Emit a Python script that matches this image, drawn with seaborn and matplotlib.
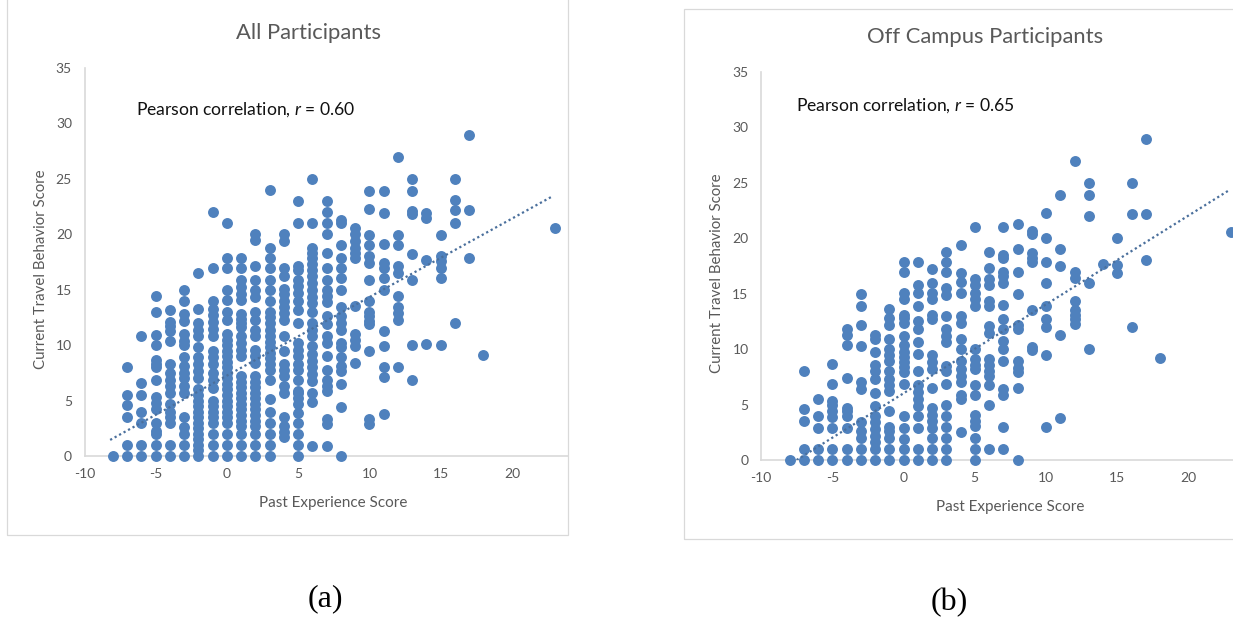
import matplotlib
matplotlib.use("Agg")
import matplotlib.pyplot as plt
from matplotlib.patches import Rectangle
import pandas as pd
import seaborn as sns

# past experience score of each column of points
past_all = [-8, -7, -6, -5, -4, -3, -2, -1, 0, 1, 2, 3, 4, 5, 6, 7, 8, 9, 10, 11, 12, 13, 14, 15, 16, 17, 18, 23]
# current travel behavior score, one list per column
current_all = [
    [0],
    [0, 1, 3.5, 4.6, 5.5, 8],
    [0, 1, 3, 4, 5.5, 6.6, 10.8],
    [0, 1, 2, 2.3, 3, 4.2, 4.8, 5.3, 6.9, 8, 8.3, 8.7, 10, 10.9, 13, 14.4],
    [0, 1, 3, 3.5, 4, 4.7, 5.7, 6.3, 6.9, 7.5, 8.3, 10.4, 11.3, 11.7, 12.1, 13.2],
    [0, 1, 2, 2.6, 3.5, 5.7, 6.3, 7, 7.5, 8.1, 8.9, 10, 10.4, 11, 12.2, 12.8, 14, 15],
    [0, 0.5, 1, 1.5, 2, 2.5, 3, 3.5, 4, 4.5, 5, 5.5, 6, 7, 7.7, 8.3, 8.9, 9.8, 10.8, 11.4, 12, 13.3, 16.5],
    [0, 1, 2, 3, 3.5, 4, 4.5, 5, 6.1, 6.9, 7.5, 8.3, 8.9, 9.5, 10.8, 11.5, 12.1, 12.7, 13.3, 14, 17, 22],
    [0, 1, 2, 3, 3.5, 4, 4.5, 5, 5.5, 6, 6.5, 7, 7.5, 8, 8.5, 9, 9.5, 10, 10.5, 11, 12.3, 13, 14.1, 15, 17.9, 17, 21],
    [0, 1, 2, 2.7, 3.2, 3.7, 4.2, 4.7, 5.2, 5.7, 6.2, 6.7, 7.2, 9, 9.6, 10.2, 10.8, 11.6, 12, 12.4, 12.8, 14.1, 14.6, 15.2, 15.9, 17, 17.9],
    [0, 1, 2, 2.7, 3.2, 3.7, 4.2, 4.7, 5.2, 5.7, 6.2, 6.7, 7.2, 8.4, 9, 9.6, 10.8, 11.4, 12.3, 13, 14.3, 15, 15.9, 17.1, 19.5, 20],
    [0, 1, 2, 3, 4, 5.1, 6.9, 7.8, 8.3, 8.8, 9.3, 9.8, 10.3, 10.8, 11.4, 12, 12.5, 13, 14, 15, 15.9, 17, 17.9, 18.8, 24],
    [1.7, 2.2, 2.7, 3.5, 5.7, 6.3, 7.2, 7.8, 8.3, 9.5, 10.8, 12.3, 12.9, 13.4, 14, 14.6, 15.1, 16.2, 17, 19.4, 20],
    [0, 1, 2, 3, 3.9, 4.7, 5.2, 5.7, 5.9, 6.9, 7.8, 8.3, 9, 9.6, 10.2, 12, 13.2, 14, 14.7, 15.3, 15.9, 16.8, 17.1, 21, 23],
    [0.9, 4.9, 5.7, 6.8, 7.4, 8, 8.6, 9.2, 9.9, 10.8, 11.4, 12, 13, 13.8, 14.3, 15, 15.6, 16.2, 16.8, 17.3, 17.9, 18.3, 18.8, 21, 25],
    [0.9, 2.9, 3.3, 5.9, 6.3, 6.9, 7.8, 9, 10.2, 10.8, 11.9, 12.6, 13.9, 14.4, 15, 15.9, 17, 18.3, 20, 21, 22, 23],
    [0, 4.4, 6.5, 7.7, 8.1, 8.9, 9.8, 10.2, 11.4, 12, 12.6, 13.4, 15, 16.1, 17, 17.9, 19, 21, 21.3],
    [8.4, 9.9, 10.5, 11, 13.5, 17.9, 18.3, 18.8, 19.4, 20, 20.6],
    [2.9, 3.3, 9.5, 11.9, 12.2, 12.6, 13, 14, 15.9, 17.4, 18, 19, 19.9, 22.3, 23.9],
    [3.8, 7.1, 8, 9.9, 11.3, 15, 16.1, 17, 17.4, 19.1, 21.9, 23.9],
    [8, 12.3, 12.9, 13.4, 14.4, 16.5, 17.1, 19, 19.9, 27],
    [6.9, 10, 15.9, 18.2, 21.8, 22.1, 23.9, 25],
    [10.1, 17.7, 21.5, 21.9],
    [10, 16.1, 17, 17.6, 18, 19.9],
    [12, 21, 22.2, 23.1, 25],
    [17.9, 22.2, 29],
    [9.1],
    [20.6],
]
trend_x_all = [-8.2, 22.8]
trend_y_all = [1.45, 23.4]

past_off = [-8, -7, -6, -5, -4, -3, -2, -1, 0, 1, 2, 3, 4, 5, 6, 7, 8, 9, 10, 11, 12, 13, 14, 15, 16, 17, 18, 23]
current_off = [
    [0],
    [0, 1, 3.5, 4.6, 8],
    [0, 1, 2.9, 4, 5.5],
    [0, 1, 2.9, 3.9, 4.4, 5, 5.3, 6.9, 8.7],
    [0, 1, 2.9, 4, 4.4, 4.7, 7.4, 10.4, 11.3, 11.8],
    [0, 1, 2, 2.6, 3.4, 6.4, 7, 10.3, 12.2, 13.9, 15],
    [0, 1, 1.6, 2.2, 2.8, 3.4, 4, 4.9, 6, 7.3, 8, 8.6, 9.7, 10.9, 11.3],
    [0, 1, 2, 2.6, 3, 4.4, 6.2, 6.8, 7.3, 8, 8.9, 9.5, 10, 10.9, 12.2, 12.8, 13.6],
    [0, 1, 1.9, 2.9, 4, 6.9, 7.9, 8.4, 8.8, 9.3, 9.7, 10.4, 11.2, 12.4, 12.8, 13.1, 14.5, 15.1, 17, 17.9],
    [0, 1, 2.9, 4, 4.9, 5.5, 6.1, 6.8, 8, 9.6, 10.6, 11.8, 12.5, 13.9, 15.1, 15.8, 17.9],
    [0, 1, 2, 2.9, 3.5, 4.1, 4.7, 6.5, 8.2, 8.8, 9.5, 12.7, 13.1, 14.5, 15.1, 16, 17.2],
    [0, 1, 2, 3, 4, 5, 6.9, 8, 8.5, 10.6, 11.2, 11.8, 13, 14.9, 15.5, 17, 17.9, 18.8],
    [2.5, 5.5, 5.9, 7, 7.6, 8.2, 8.9, 10, 10.9, 12.4, 13, 15.1, 16.1, 16.9, 19.4],
    [0, 1, 2, 3.1, 3.5, 4.1, 5.9, 6.8, 8.2, 8.6, 9.1, 10, 13.9, 14.5, 15.1, 15.8, 16.3, 21],
    [1, 5, 6.8, 7.6, 8, 8.6, 9.1, 11.5, 12.1, 13.9, 14.3, 15.8, 16.3, 17.3, 18.8],
    [1, 3, 5.9, 6.4, 8.9, 10, 10.7, 11.8, 12.7, 14, 16, 16.6, 17, 18.2, 18.5, 21],
    [0, 6.5, 7.9, 8.3, 8.9, 11.8, 12.2, 15, 17, 19, 21.3],
    [9.9, 10.2, 13.5, 17.9, 18.2, 18.7, 20.4, 20.7],
    [3, 9.5, 12, 12.7, 13.9, 16, 17.9, 20, 22.3],
    [3.8, 11.3, 17.5, 19, 23.9],
    [12.3, 12.7, 13.1, 13.5, 14.3, 16.4, 17, 27],
    [10, 16, 22, 23.9, 25],
    [17.7],
    [16.9, 17.6, 20],
    [12, 22.2, 25],
    [18, 22.2, 29],
    [9.2],
    [20.6],
]
trend_x_off = [-7.5, 22.8]
trend_y_off = [0, 24.3]

x_ticks = [-10, -5, 0, 5, 10, 15, 20]
y_ticks = [0, 5, 10, 15, 20, 25, 30, 35]

sns.set_style("white")
plt.rcParams["font.family"] = ["Lato", "DejaVu Sans"]
plt.rcParams["mathtext.fontset"] = "custom"
plt.rcParams["mathtext.it"] = "Lato:italic"
plt.rcParams["mathtext.rm"] = "Lato"
plt.rcParams["axes.unicode_minus"] = False

W, H = 1233, 619
fig = plt.figure(figsize=(W / 100, H / 100), dpi=100)
grey = "#595959"
line_grey = "#d9d9d9"


def panel(past, current, tx, ty, left, right, xmax, bottom, title, title_x, title_y, note, note_x, note_y, frame, xlab, ylab):
    # frame of the pasted excel chart
    fig.add_artist(Rectangle((frame[0] / W, 1 - frame[3] / H), (frame[2] - frame[0]) / W, (frame[3] - frame[1]) / H,
                             fill=False, ec=line_grey, lw=0.9, transform=fig.transFigure))
    ax = fig.add_axes([left / W, 1 - bottom / H, (right - left) / W, 388 / H])
    df = pd.DataFrame({"x": [p for p, c in zip(past, current) for _ in c],
                       "y": [v for c in current for v in c]})
    sns.scatterplot(data=df, x="x", y="y", ax=ax, color="#4f81bd", s=62, linewidth=0, clip_on=False, zorder=3)
    sns.lineplot(x=tx, y=ty, ax=ax, color="#4a6f9c", lw=1.6, linestyle=(0, (1, 1.3)), zorder=4, errorbar=None)
    ax.set_xlim(-10, xmax)
    ax.set_ylim(0, 35)
    ax.set_xticks(x_ticks)
    ax.set_yticks(y_ticks)
    ax.tick_params(length=0, labelsize=10, labelcolor=grey, pad=9)
    ax.set_xlabel("Past Experience Score", fontsize=11, color=grey)
    ax.set_ylabel("Current Travel Behavior Score", fontsize=10.8, color=grey)
    # label centres in pixels of the figure
    ax.xaxis.set_label_coords(xlab[0] / W, 1 - xlab[1] / H, transform=fig.transFigure)
    ax.xaxis.label.set_va("center")
    ax.yaxis.set_label_coords(ylab[0] / W, 1 - ylab[1] / H, transform=fig.transFigure)
    ax.yaxis.label.set_va("center")
    sns.despine(ax=ax)
    for s in ["left", "bottom"]:
        ax.spines[s].set_color(line_grey)
        ax.spines[s].set_linewidth(1.2)
    ax.patch.set_alpha(0)
    fig.text(title_x / W, 1 - title_y / H, title, fontsize=15.8, color=grey, ha="center", va="center")
    fig.text(note_x / W, 1 - note_y / H, note, fontsize=12.6, color="#111111", ha="left", va="center")


panel(past_all, current_all, trend_x_all, trend_y_all, 84.5, 568, 23.93, 456, "All Participants", 308, 33,
      "Pearson correlation, $r$ = 0.60", 136, 110, (7, -5, 568, 535), (333, 503), (41, 269))
panel(past_off, current_off, trend_x_off, trend_y_off, 761, 1233, 23.12, 460, "Off Campus Participants", 985, 37,
      "Pearson correlation, $r$ = 0.65", 796, 106, (684, 9, 1240, 539), (1010, 507), (717, 273))

fig.text(325 / W, 1 - 599 / H, "(a)", family="Liberation Serif", fontsize=23, color="black", ha="center", va="center")
fig.text(949 / W, 1 - 603 / H, "(b)", family="Liberation Serif", fontsize=23, color="black", ha="center", va="center")

fig.savefig("out.png", dpi=100)
